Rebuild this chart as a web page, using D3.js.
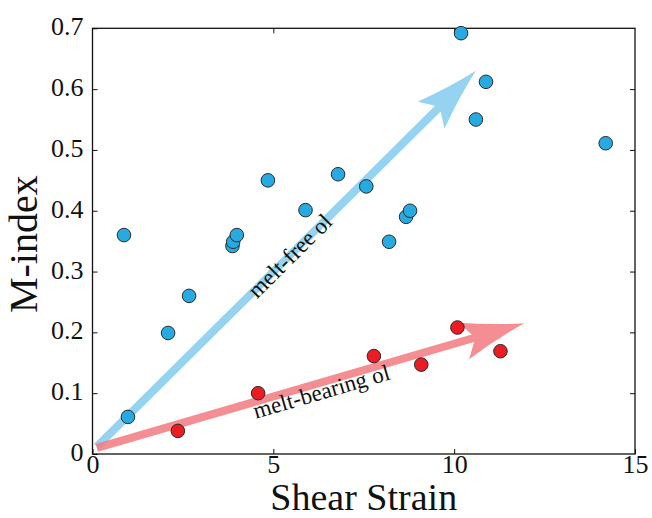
<!DOCTYPE html>
<html>
<head>
<meta charset="utf-8">
<script src="https://cdn.jsdelivr.net/npm/d3@7"></script>
<style>
  body { margin: 0; background: #fff; }
  text { font-family: "Liberation Serif", "Times New Roman", serif; }
</style>
</head>
<body>
<div id="chart"></div>
<script>
// melt-free olivine samples
var freeStrain = [0.87, 0.98, 2.09, 2.67, 3.87, 3.89, 3.99, 4.85, 5.89, 6.79, 7.57, 8.20, 8.67, 8.78, 10.19, 10.60, 10.88, 14.19];
var freeM      = [0.360, 0.061, 0.199, 0.260, 0.342, 0.349, 0.360, 0.450, 0.401, 0.460, 0.440, 0.349, 0.390, 0.400, 0.692, 0.550, 0.612, 0.511];

// melt-bearing olivine samples
var bearingStrain = [2.36, 4.58, 7.78, 9.09, 10.09, 11.28];
var bearingM      = [0.038, 0.100, 0.161, 0.147, 0.208, 0.169];

// trend arrows (strain, M-index) and where along them the label sits
var trendNames = ["melt-free ol", "melt-bearing ol"];
var trendFrom  = [[0.12, 0.012], [0.12, 0.010]];
var trendTo    = [[10.60, 0.630], [11.94, 0.215]];
var labelAt    = [5.45, 6.26];

var xTicks = [0, 5, 10, 15];
var yTicks = [0, 0.1, 0.2, 0.3, 0.4, 0.5, 0.6, 0.7];

var W = 652, H = 518;
var margin = {top: 28.3, right: 17, bottom: 64, left: 92.5},
    width = W - margin.left - margin.right,
    height = H - margin.top - margin.bottom;

var svg = d3.select("#chart").append("svg")
    .attr("width", W)
    .attr("height", H);

var g = svg.append("g")
    .attr("transform", "translate(" + margin.left + "," + margin.top + ")");

var x = d3.scaleLinear().domain([0, 15]).range([0, width]);
var y = d3.scaleLinear().domain([0, 0.7]).range([height, 0]);

var yFmt = function(d) { return d === 0 ? "0" : d3.format(".1f")(d); };

// axes, ticks pointing inward on all four sides
var xAxis = d3.axisBottom(x).tickValues(xTicks).tickSizeInner(-5).tickSizeOuter(0)
    .tickPadding(1).tickFormat(d3.format("d"));
var yAxis = d3.axisLeft(y).tickValues(yTicks).tickSizeInner(-5).tickSizeOuter(0)
    .tickPadding(9).tickFormat(yFmt);
var xTop = d3.axisTop(x).tickValues([5, 10]).tickSizeInner(-5).tickSizeOuter(0).tickFormat("");
var yRight = d3.axisRight(y).tickValues(yTicks.slice(1, -1)).tickSizeInner(-5).tickSizeOuter(0).tickFormat("");

g.append("g").attr("class", "axis x")
    .attr("transform", "translate(0," + height + ")")
    .call(xAxis);
g.append("g").attr("class", "axis y").call(yAxis);
g.append("g").attr("class", "axis top").call(xTop);
g.append("g").attr("class", "axis right")
    .attr("transform", "translate(" + width + ",0)")
    .call(yRight);

g.selectAll(".axis .domain").remove();
g.selectAll(".axis line").attr("stroke", "#111").attr("stroke-width", 1);
g.selectAll(".axis text")
    .style("font-family", "'Liberation Serif', 'Times New Roman', serif")
    .style("font-size", "26px")
    .attr("fill", "#111");
g.selectAll(".axis.y text").attr("dy", "0.25em");

g.append("rect")
    .attr("width", width)
    .attr("height", height)
    .attr("fill", "none")
    .attr("stroke", "#111")
    .attr("stroke-width", 1.3);

// trend arrows
var arrowColors = ["#95d3f0", "#f27a80"];
var arrowOpacity = [1, 0.85];

function arrowPath(p0, p1) {
  var dx = p1[0] - p0[0], dy = p1[1] - p0[1], L = Math.hypot(dx, dy);
  var ux = dx / L, uy = dy / L, nx = -uy, ny = ux;
  function pt(a, b) { return [p0[0] + ux * a + nx * b, p0[1] + uy * a + ny * b]; }
  var hw = 4, back = 63, half = 19, notch = 51;
  var join = L - notch - (back - notch) * hw / half;
  var pts = [pt(0, -hw), pt(join, -hw), pt(L - back, -half), pt(L, 0), pt(L - back, half), pt(join, hw), pt(0, hw)];
  var c1 = pt(L - 31, -7), c2 = pt(L - 31, 7);
  var p = d3.path();
  p.moveTo(pts[0][0], pts[0][1]);
  p.lineTo(pts[1][0], pts[1][1]);
  p.lineTo(pts[2][0], pts[2][1]);
  p.quadraticCurveTo(c1[0], c1[1], pts[3][0], pts[3][1]);
  p.quadraticCurveTo(c2[0], c2[1], pts[4][0], pts[4][1]);
  p.lineTo(pts[5][0], pts[5][1]);
  p.lineTo(pts[6][0], pts[6][1]);
  p.closePath();
  return p.toString();
}

var labelDy = ["0.35em", "0.72em"];

trendNames.forEach(function(name, i) {
  var p0 = [x(trendFrom[i][0]), y(trendFrom[i][1])];
  var p1 = [x(trendTo[i][0]), y(trendTo[i][1])];
  g.append("path")
    .attr("d", arrowPath(p0, p1))
    .attr("fill", arrowColors[i])
    .attr("fill-opacity", arrowOpacity[i]);
});

trendNames.forEach(function(name, i) {
  var p0 = [x(trendFrom[i][0]), y(trendFrom[i][1])];
  var p1 = [x(trendTo[i][0]), y(trendTo[i][1])];
  var t = (labelAt[i] - trendFrom[i][0]) / (trendTo[i][0] - trendFrom[i][0]);
  var ly = trendFrom[i][1] + t * (trendTo[i][1] - trendFrom[i][1]);
  var angle = Math.atan2(p1[1] - p0[1], p1[0] - p0[0]) * 180 / Math.PI;
  g.append("text")
    .attr("transform", "translate(" + x(labelAt[i]) + "," + y(ly) + ") rotate(" + angle + ")")
    .attr("text-anchor", "middle")
    .attr("dy", labelDy[i])
    .style("font-size", "23px")
    .attr("fill", "#111")
    .text(name);
});

// sample points
var freeData = freeStrain.map(function(s, i) { return {s: s, m: freeM[i]}; });
var bearingData = bearingStrain.map(function(s, i) { return {s: s, m: bearingM[i]}; });

g.selectAll(".free").data(freeData).enter().append("circle")
    .attr("class", "free")
    .attr("cx", function(d) { return x(d.s); })
    .attr("cy", function(d) { return y(d.m); })
    .attr("r", 6.8)
    .attr("fill", "#27aae1")
    .attr("stroke", "#2b2b2b")
    .attr("stroke-width", 1);

g.selectAll(".bearing").data(bearingData).enter().append("circle")
    .attr("class", "bearing")
    .attr("cx", function(d) { return x(d.s); })
    .attr("cy", function(d) { return y(d.m); })
    .attr("r", 6.8)
    .attr("fill", "#ec1c24")
    .attr("stroke", "#2b2b2b")
    .attr("stroke-width", 1);

// axis titles
svg.append("text")
    .attr("x", margin.left + width / 2)
    .attr("y", 509.5)
    .attr("text-anchor", "middle")
    .style("font-size", "38px")
    .attr("fill", "#111")
    .text("Shear Strain");

svg.append("text")
    .attr("transform", "translate(37," + (margin.top + height / 2 + 3) + ") rotate(-90)")
    .attr("text-anchor", "middle")
    .style("font-size", "40px")
    .attr("fill", "#111")
    .text("M-index");
</script>
</body>
</html>
